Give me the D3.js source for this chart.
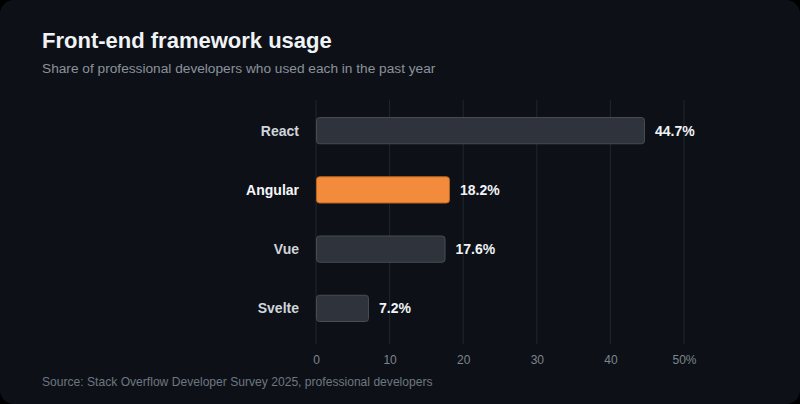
<!DOCTYPE html>
<html>
<head>
<meta charset="utf-8">
<script src="https://cdn.jsdelivr.net/npm/d3@7"></script>
<style>
  html, body { margin: 0; padding: 0; background: #000; }
  svg { display: block; font-family: "Liberation Sans", Arial, sans-serif; }
</style>
</head>
<body>
<script>
// datos del gráfico
var frameworks = ["React", "Angular", "Vue", "Svelte"]
var usage = [44.7, 18.2, 17.6, 7.2]
var highlight = "Angular"
var ticks = [0, 10, 20, 30, 40, 50]

var datos = frameworks.map(function (f, i) { return { name: f, value: usage[i] } })

var W = 800, H = 404,
    margin = { top: 101, right: 116, bottom: 66, left: 316 },
    width = W - margin.left - margin.right,
    height = H - margin.top - margin.bottom,
    bg = "#0d1117",
    barColor = "#2f333b",
    barStroke = "#474c55",
    hiColor = "#f28c3c",
    hiStroke = "#b8621f"

var svg = d3.select("body").append("svg")
  .attr("width", W)
  .attr("height", H)

// tarjeta de fondo
svg.append("rect")
  .attr("width", W).attr("height", H)
  .attr("rx", 14)
  .attr("fill", bg)

// título y subtítulo
svg.append("text")
  .attr("x", 42).attr("y", 48)
  .attr("fill", "#f0f3f6")
  .style("font-size", "22px")
  .style("font-weight", "bold")
  .text("Front-end framework usage")

svg.append("text")
  .attr("x", 42).attr("y", 73)
  .attr("fill", "#8b929c")
  .style("font-size", "13.7px")
  .text("Share of professional developers who used each in the past year")

svg.append("text")
  .attr("x", 42).attr("y", 386)
  .attr("fill", "#6e7681")
  .style("font-size", "12.1px")
  .text("Source: Stack Overflow Developer Survey 2025, professional developers")

var g = svg.append("g")
  .attr("transform", "translate(" + margin.left + "," + margin.top + ")")

var x = d3.scaleLinear().domain([0, 50]).range([0, width])
var y = d3.scaleBand().domain(frameworks).range([0, height]).paddingInner(0.54).paddingOuter(0.27)

// rejilla vertical
g.append("g")
  .selectAll("line")
  .data(ticks)
  .enter()
  .append("line")
  .attr("x1", function (d) { return x(d) })
  .attr("x2", function (d) { return x(d) })
  .attr("y1", -1)
  .attr("y2", height + 6)
  .attr("stroke", "#21262d")
  .attr("stroke-width", 1)

// eje X
var xAxis = g.append("g")
  .attr("transform", "translate(0," + (height + 6) + ")")
  .call(d3.axisBottom(x).tickValues(ticks).tickSize(0).tickPadding(11)
    .tickFormat(function (d) { return d === 50 ? d + "%" : d }))
xAxis.select(".domain").remove()
xAxis.selectAll("text")
  .attr("fill", "#7d8590")
  .style("font-size", "12px")
  .style("font-family", "Liberation Sans, Arial, sans-serif")

// barras
g.append("g")
  .selectAll("rect")
  .data(datos)
  .enter()
  .append("rect")
  .attr("x", x(0) + 0.5)
  .attr("y", function (d) { return y(d.name) + 0.5 })
  .attr("width", function (d) { return x(d.value) - x(0) - 1 })
  .attr("height", y.bandwidth() - 1)
  .attr("rx", 3)
  .attr("fill", function (d) { return d.name === highlight ? hiColor : barColor })
  .attr("stroke", function (d) { return d.name === highlight ? hiStroke : barStroke })
  .attr("stroke-width", 1)

// etiquetas de categoría
g.append("g")
  .selectAll("text")
  .data(datos)
  .enter()
  .append("text")
  .attr("x", -17)
  .attr("y", function (d) { return y(d.name) + y.bandwidth() / 2 })
  .attr("dy", "0.35em")
  .attr("text-anchor", "end")
  .attr("fill", function (d) { return d.name === highlight ? "#f5f7fa" : "#d0d5db" })
  .style("font-size", "14px")
  .style("font-weight", "bold")
  .text(function (d) { return d.name })

// valores
g.append("g")
  .selectAll("text")
  .data(datos)
  .enter()
  .append("text")
  .attr("x", function (d) { return x(d.value) + 10 })
  .attr("y", function (d) { return y(d.name) + y.bandwidth() / 2 })
  .attr("dy", "0.35em")
  .attr("fill", "#f0f3f6")
  .style("font-size", "14px")
  .style("font-weight", "bold")
  .text(function (d) { return d.value.toFixed(1) + "%" })
</script>
</body>
</html>
